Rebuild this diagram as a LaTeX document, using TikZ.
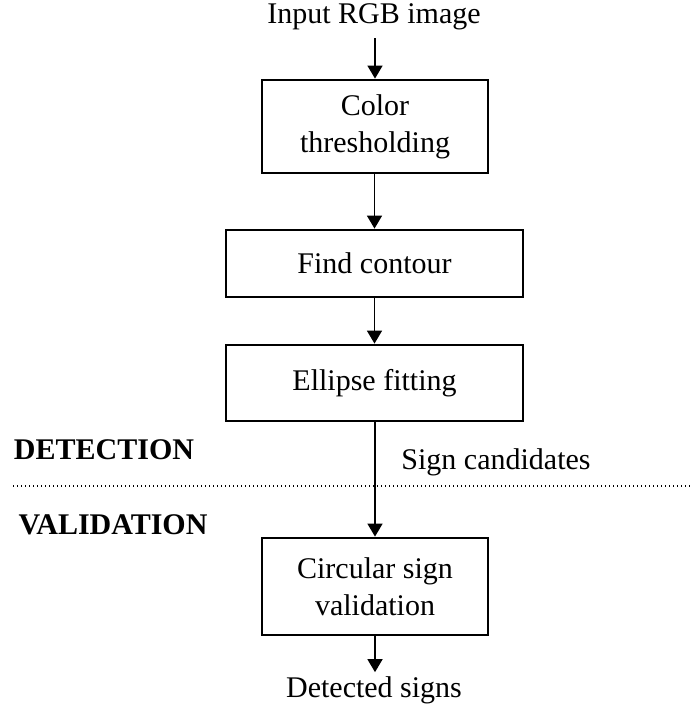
\documentclass[tikz,border=0pt]{standalone}
\usepackage{fontspec}
\setmainfont{Liberation Serif}
\usetikzlibrary{arrows.meta}
\begin{document}
\begin{tikzpicture}[x=1pt,y=-1pt,
  every node/.style={font=\fontsize{30}{37}\selectfont, inner sep=0pt},
  stepbox/.style={draw, line width=2.8pt, align=center},
  narrowbox/.style={stepbox, minimum width=226pt},
  widebox/.style={stepbox, minimum width=297pt},
  lbl/.style={align=center},
  sect/.style={font=\fontsize{30}{37}\selectfont\bfseries},
  arr/.style={line width=1.5pt, -{Triangle[length=13pt,width=15pt]}},
  sep/.style={line width=1.3pt, dash pattern=on 1.3pt off 2.7pt}
]
\useasboundingbox (0,0) rectangle (693,708);
\node[lbl] (in) at (374,17) {Input RGB image};
\node[narrowbox, minimum height=93pt] (b1) at (375,126.5) {Color\\thresholding};
\node[widebox, minimum height=67pt] (b2) at (374.5,263.5) {Find contour};
\node[widebox, minimum height=76pt] (b3) at (374.5,383) {Ellipse fitting};
\node[narrowbox, minimum height=97pt] (b4) at (375,586.5) {Circular sign\\validation};
\node[lbl] (out) at (374,690) {Detected signs};
\node[lbl] (cand) at (496,462) {Sign candidates};
\node[sect] (det) at (104,450) {DETECTION};
\node[sect] (val) at (113,525) {VALIDATION};
\coordinate (dl) at (13,486);
\coordinate (dr) at (692,486);
\draw[sep] (dl) -- (dr);
\draw[arr, shorten <=8pt] (in.south -| b1.north) -- (b1.north);
\draw[arr] (b1.south -| b2.north) -- (b2.north);
\draw[arr] (b2.south) -- (b2.south |- b3.north);
\draw[arr] (b3.south -| b4.north) -- (b4.north);
\draw[arr, shorten >=4pt] (b4.south) -- (b4.south |- out.north);
\end{tikzpicture}
\end{document}
